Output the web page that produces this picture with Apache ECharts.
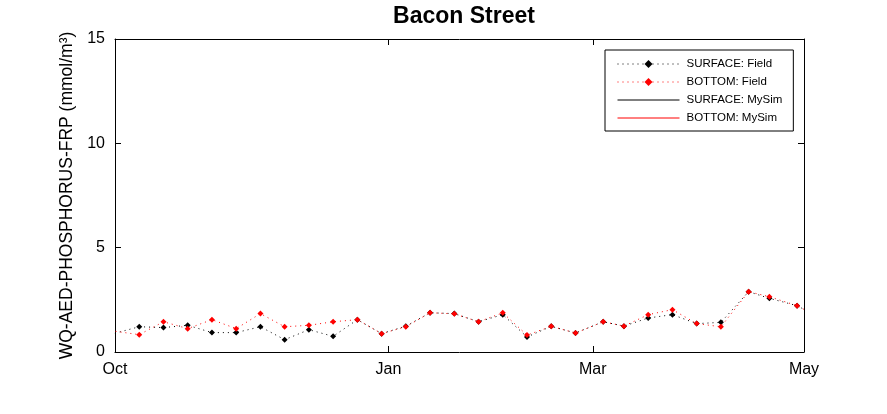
<!DOCTYPE html>
<html>
<head>
<meta charset="utf-8">
<script src="https://cdn.jsdelivr.net/npm/echarts@6/dist/echarts.min.js"></script>
<style>
  html, body { margin: 0; padding: 0; background: #fff; }
  #chart { width: 887px; height: 414px; }
</style>
</head>
<body>
<div id="chart"></div>
<script>
// days counted from the left edge of the axis (mid October)
const days = [-7, 7, 14, 21, 28, 35, 42, 49, 56, 63, 70, 77, 84, 91, 98, 105, 112, 119, 126, 133,
  141, 147, 154, 161, 168, 175, 183, 189, 197, 204]
const surfaceField = [0.59, 1.21, 1.17, 1.28, 0.93, 0.93, 1.21, 0.59, 1.07, 0.75, 1.55, 0.88, 1.24, 1.88, 1.84,
  1.45, 1.79, 0.72, 1.23, 0.91, 1.45, 1.24, 1.63, 1.79, 1.36, 1.42, 2.89, 2.57, 2.22, 1.6]
const bottomField = [1.16, 0.83, 1.45, 1.12, 1.55, 1.12, 1.84, 1.21, 1.28, 1.45, 1.55, 0.88, 1.21, 1.88, 1.83,
  1.45, 1.88, 0.81, 1.23, 0.91, 1.45, 1.24, 1.79, 2.03, 1.36, 1.21, 2.89, 2.65, 2.22, 1.6]

const monthTicks = [0, 79, 138, 199]
const monthLabels = ['Oct', 'Jan', 'Mar', 'May']

const pairs = vals => days.map((d, i) => [d, vals[i]])
const font = 'Liberation Sans, Arial, Helvetica, sans-serif'

let myChart = echarts.init(document.getElementById('chart'))

const xBase = {
  type: 'value',
  min: 0,
  max: 199,
  splitLine: { show: false },
  axisLine: { onZero: false, lineStyle: { color: '#000', width: 1 } },
  axisTick: { inside: true, length: 6, customValues: monthTicks, lineStyle: { color: '#000' } }
}
const yBase = {
  type: 'value',
  min: 0,
  max: 15,
  interval: 5,
  splitLine: { show: false },
  axisLine: { show: true, onZero: false, lineStyle: { color: '#000', width: 1 } },
  axisTick: { inside: true, length: 6, lineStyle: { color: '#000' } }
}

let option = {
  animation: false,
  backgroundColor: '#fff',
  title: {
    text: 'Bacon Street',
    left: 459,
    top: 0,
    textAlign: 'center',
    textStyle: { fontFamily: font, fontSize: 23, fontWeight: 'bold', color: '#000' }
  },
  grid: { left: 115, right: 83, top: 39, bottom: 62 },
  legend: {
    orient: 'vertical',
    left: 605,
    top: 50,
    padding: [8, 11, 7, 12],
    itemWidth: 62,
    itemHeight: 10,
    itemGap: 6,
    borderColor: '#000',
    borderWidth: 1,
    backgroundColor: '#fff',
    lineStyle: { width: 1 },
    textStyle: { fontFamily: font, fontSize: 11.5, color: '#000', padding: [0, 0, 0, 2] },
    data: [
      { name: 'SURFACE: Field' },
      { name: 'BOTTOM: Field' },
      { name: 'SURFACE: MySim', itemStyle: { opacity: 0 } },
      { name: 'BOTTOM: MySim', itemStyle: { opacity: 0 } }
    ]
  },
  xAxis: [
    Object.assign({}, xBase, {
      position: 'bottom',
      axisLabel: {
        customValues: monthTicks,
        margin: 10,
        color: '#000',
        fontFamily: font,
        fontSize: 16,
        formatter: v => monthLabels[monthTicks.indexOf(v)] || ''
      }
    }),
    Object.assign({}, xBase, { position: 'top', axisLabel: { show: false } })
  ],
  yAxis: [
    Object.assign({}, yBase, {
      position: 'left',
      name: 'WQ-AED-PHOSPHORUS-FRP (mmol/m³)',
      nameLocation: 'middle',
      nameGap: 30,
      nameTextStyle: { fontFamily: font, fontSize: 17.5, color: '#000' },
      axisLabel: { margin: 10, color: '#000', fontFamily: font, fontSize: 16 }
    }),
    Object.assign({}, yBase, { position: 'right', axisLabel: { show: false } })
  ],
  series: [
    {
      name: 'SURFACE: Field',
      type: 'line',
      data: pairs(surfaceField),
      clip: true,
      symbol: 'diamond',
      symbolSize: 6,
      itemStyle: { color: '#000' },
      lineStyle: { color: '#000', width: 1, type: [1, 4] }
    },
    {
      name: 'BOTTOM: Field',
      type: 'line',
      data: pairs(bottomField),
      clip: true,
      symbol: 'diamond',
      symbolSize: 6,
      itemStyle: { color: '#ff0000' },
      lineStyle: { color: '#ff0000', width: 1, type: [1, 4] }
    },
    {
      name: 'SURFACE: MySim',
      type: 'line',
      data: [],
      symbol: 'none',
      itemStyle: { color: '#000' },
      lineStyle: { color: '#000', width: 1 }
    },
    {
      name: 'BOTTOM: MySim',
      type: 'line',
      data: [],
      symbol: 'none',
      itemStyle: { color: '#ff0000' },
      lineStyle: { color: '#ff0000', width: 1 }
    }
  ]
}

myChart.setOption(option)
</script>
</body>
</html>
